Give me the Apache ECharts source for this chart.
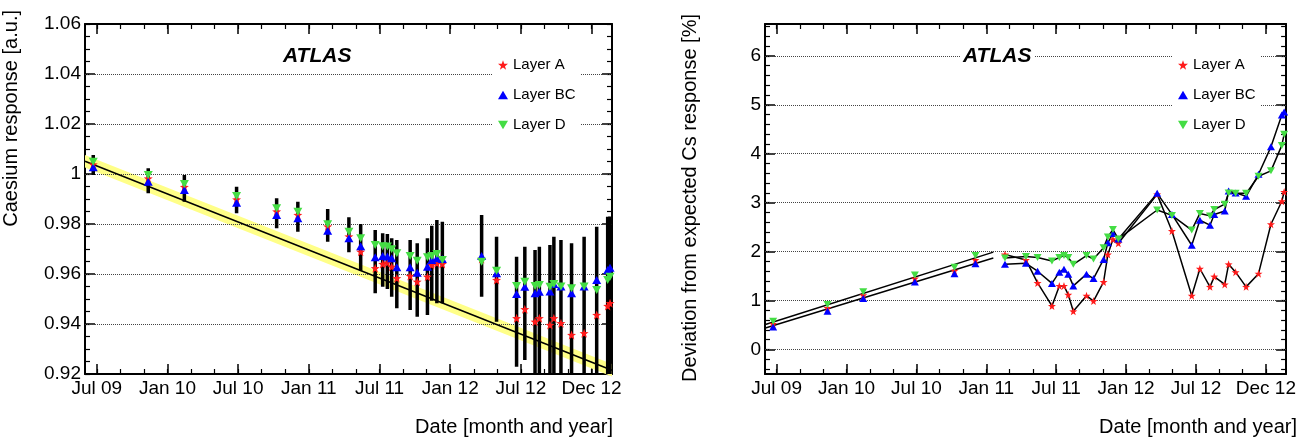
<!DOCTYPE html>
<html>
<head>
<meta charset="utf-8">
<script src="https://cdn.jsdelivr.net/npm/echarts@6/dist/echarts.min.js"></script>
<style>html,body{margin:0;padding:0;background:#fff}#c{width:1299px;height:448px}</style>
</head>
<body>
<div id="c"></div>
<script>
// ---------------- data ----------------
const dates = ["2009-07-11","2009-11-28","2010-02-28","2010-07-11","2010-10-21","2010-12-14","2011-02-28","2011-04-23","2011-05-23","2011-06-29","2011-07-18","2011-07-30","2011-08-10","2011-08-23","2011-09-26","2011-10-14","2011-11-09","2011-11-20","2011-12-03","2011-12-17","2012-03-26","2012-05-03","2012-06-23","2012-07-14","2012-08-09","2012-08-20","2012-09-16","2012-09-26","2012-10-14","2012-11-10","2012-12-12","2013-01-13","2013-02-10","2013-02-16"];

// Left panel: caesium response [a.u.]
const respA  = [1.0038,0.9982,0.9948,0.9898,0.9850,0.9836,0.9790,0.9750,0.9689,0.9623,0.9640,0.9645,0.9629,0.9583,0.9592,0.9569,0.9589,0.9636,0.9643,0.9640,0.9660,0.9576,0.9423,0.9459,0.9409,0.9423,0.9396,0.9423,0.9403,0.9356,0.9363,0.9436,0.9472,0.9483];
const respBC = [1.0027,0.9969,0.9936,0.9885,0.9836,0.9823,0.9773,0.9743,0.9711,0.9667,0.9672,0.9670,0.9663,0.9627,0.9627,0.9605,0.9629,0.9656,0.9663,0.9660,0.9672,0.9603,0.9520,0.9549,0.9523,0.9529,0.9530,0.9560,0.9550,0.9523,0.9550,0.9576,0.9616,0.9625];
const respD  = [1.0049,0.9996,0.9960,0.9912,0.9863,0.9849,0.9799,0.9769,0.9743,0.9716,0.9711,0.9710,0.9699,0.9683,0.9672,0.9653,0.9667,0.9672,0.9680,0.9656,0.9649,0.9613,0.9552,0.9569,0.9552,0.9556,0.9549,0.9560,0.9550,0.9543,0.9550,0.9536,0.9576,0.9589];
const errTop    = [1.0076,1.0023,0.9996,0.9949,0.9903,0.9889,0.9860,0.9827,0.9800,0.9776,0.9763,0.9760,0.9743,0.9736,0.9736,0.9723,0.9743,0.9793,0.9816,0.9809,0.9836,0.9749,0.9669,0.9709,0.9696,0.9709,0.9716,0.9749,0.9736,0.9723,0.9749,0.9789,0.9829,0.9830];
const errBottom = [0.9996,0.9923,0.9889,0.9843,0.9783,0.9769,0.9729,0.9687,0.9613,0.9523,0.9549,0.9540,0.9509,0.9463,0.9456,0.9429,0.9436,0.9493,0.9483,0.9483,0.9509,0.9409,0.9229,0.9256,0.9100,0.9100,0.9100,0.9100,0.9100,0.9100,0.9100,0.9100,0.9100,0.9100];
const fitLeft = [["2009-06-20", 1.0051], ["2013-02-21", 0.9215]];
const fitBandHalf = 0.0025;

// Right panel: deviation from expected Cs response [%]
const devA  = [0.52,0.85,1.11,1.45,1.61,1.83,1.94,1.83,1.36,0.89,1.30,1.30,1.12,0.78,1.10,0.99,1.38,1.94,2.25,2.17,3.17,2.42,1.10,1.65,1.28,1.49,1.33,1.74,1.58,1.28,1.55,2.56,3.03,3.22];
const devBC = [0.46,0.78,1.04,1.38,1.55,1.75,1.74,1.76,1.60,1.35,1.58,1.64,1.54,1.30,1.54,1.45,1.84,2.18,2.37,2.26,3.19,2.76,2.13,2.64,2.54,2.76,2.83,3.24,3.20,3.13,3.58,4.14,4.79,4.85];
const devD  = [0.58,0.92,1.18,1.52,1.68,1.92,1.87,1.90,1.88,1.81,1.88,1.92,1.88,1.74,1.92,1.85,2.08,2.30,2.45,2.26,2.85,2.74,2.44,2.78,2.73,2.86,2.97,3.20,3.19,3.19,3.54,3.65,4.17,4.40];
const fitDevBC = [["2009-06-21", 0.44], ["2011-01-29", 1.87]];
const fitDevD  = [["2009-06-21", 0.51], ["2011-01-29", 1.99]];
const connectFrom = 6; // points joined by lines from this index on

// Axis ticks
const xTickLabels = ["Jul 09","Jan 10","Jul 10","Jan 11","Jul 11","Jan 12","Jul 12","Dec 12"];
const xTickStepDays = 180;
const xOrigin = "2009-07-20";           // date of the first labelled tick
const xRangeDays = [-30, 1312];
const yLeftTicks = [0.92,0.94,0.96,0.98,1.00,1.02,1.04,1.06];
const yRightTicks = [0,1,2,3,4,5,6];
const yLeftGrid = [0.94,0.96,0.98,1.00,1.02,1.04];
const yLeftRange = [0.92, 1.06];
const yRightRange = [-0.5, 6.65];

// ---------------- helpers ----------------
const ORIGIN_MS = Date.parse(xOrigin + "T00:00:00Z");
const day = d => (Date.parse(d + "T00:00:00Z") - ORIGIN_MS) / 86400000;
const xTicks = xTickLabels.map((_, i) => i * xTickStepDays);
const xMinor = []; for (let d = 0; d <= xRangeDays[1]; d += xTickStepDays / 3) xMinor.push(d);
const yLeftMinor = []; for (let i = 0; i <= 28; i++) yLeftMinor.push(+(0.92 + i * 0.005).toFixed(3));
const yRightMinor = []; for (let i = -2; i <= 33; i++) yRightMinor.push(+(i * 0.2).toFixed(1));

const FONT = '"Liberation Sans", Arial, Helvetica, sans-serif';
const STAR = 'path://M50 0 L61.8 33.8 L97.6 34.5 L69 56.2 L79.4 90.5 L50 70 L20.6 90.5 L31 56.2 L2.4 34.5 L38.2 33.8 Z';
const TRI_UP = 'path://M5 0 L10 8.66 L0 8.66 Z';
const TRI_DOWN = 'path://M0 0 L10 0 L5 8.66 Z';
const COL_A = '#ff1a1a', COL_BC = '#0000ff', COL_D = '#44dd44';

const grids = [
  { left: 85, top: 24, width: 527, height: 350 },
  { left: 765, top: 24, width: 527, height: 350 }
];

function xAxesFor(g) {
  const base = { gridIndex: g, type: 'value', min: xRangeDays[0], max: xRangeDays[1], splitLine: { show: false } };
  const line = { show: true, onZero: false, lineStyle: { color: '#000', width: 2 } };
  return [
    Object.assign({}, base, { position: 'bottom', axisLine: line,
      axisTick: { show: true, inside: true, length: 10, customValues: xTicks, lineStyle: { color: '#000', width: 1.5 } },
      axisLabel: { show: true, customValues: xTicks, margin: 5, fontSize: 19, fontFamily: FONT, color: '#000',
        formatter: v => xTickLabels[Math.round(v / xTickStepDays)] } }),
    Object.assign({}, base, { position: 'bottom', axisLine: { show: false, onZero: false },
      axisTick: { show: true, inside: true, length: 5, customValues: xMinor, lineStyle: { color: '#000', width: 1.2 } },
      axisLabel: { show: false } }),
    Object.assign({}, base, { position: 'top', axisLine: line,
      axisTick: { show: true, inside: true, length: 10, customValues: xTicks, lineStyle: { color: '#000', width: 1.5 } },
      axisLabel: { show: false } }),
    Object.assign({}, base, { position: 'top', axisLine: { show: false, onZero: false },
      axisTick: { show: true, inside: true, length: 5, customValues: xMinor, lineStyle: { color: '#000', width: 1.2 } },
      axisLabel: { show: false } })
  ];
}
function yAxesFor(g, range, ticks, minor, fmt) {
  const base = { gridIndex: g, type: 'value', min: range[0], max: range[1], splitLine: { show: false } };
  const line = { show: true, onZero: false, lineStyle: { color: '#000', width: 2 } };
  return [
    Object.assign({}, base, { position: 'left', axisLine: line,
      axisTick: { show: true, inside: true, length: 10, customValues: ticks, lineStyle: { color: '#000', width: 1.5 } },
      axisLabel: { show: true, customValues: ticks, margin: 4, fontSize: 19, fontFamily: FONT, color: '#000',
        showMinLabel: true, showMaxLabel: true, formatter: fmt } }),
    Object.assign({}, base, { position: 'left', axisLine: { show: false, onZero: false },
      axisTick: { show: true, inside: true, length: 5, customValues: minor, lineStyle: { color: '#000', width: 1.2 } },
      axisLabel: { show: false } }),
    Object.assign({}, base, { position: 'right', axisLine: line,
      axisTick: { show: true, inside: true, length: 10, customValues: ticks, lineStyle: { color: '#000', width: 1.5 } },
      axisLabel: { show: false } }),
    Object.assign({}, base, { position: 'right', axisLine: { show: false, onZero: false },
      axisTick: { show: true, inside: true, length: 5, customValues: minor, lineStyle: { color: '#000', width: 1.2 } },
      axisLabel: { show: false } })
  ];
}

const gridMarkLine = vals => ({
  silent: true, symbol: ['none', 'none'], label: { show: false }, animation: false, z: 1.5,
  lineStyle: { type: 'dotted', color: '#444', width: 1 },
  data: vals.map(v => ({ yAxis: v }))
});

const pts = arr => dates.map((d, i) => [day(d), arr[i]]);
const linePts = arr => dates.slice(connectFrom).map((d, i) => [day(d), arr[i + connectFrom]]);
const fitPts = f => f.map(p => [day(p[0]), p[1]]);

const legendData = [
  { name: 'Layer A', icon: STAR },
  { name: 'Layer BC', icon: TRI_UP },
  { name: 'Layer D', icon: TRI_DOWN }
];
const legendFor = left => ({
  orient: 'vertical', left: left, top: 51, padding: [5, 5, 5, 5], itemGap: 12, z: 10,
  itemWidth: 10, itemHeight: 10, backgroundColor: '#fff', selectedMode: false,
  textStyle: { fontSize: 15, fontFamily: FONT, color: '#000', lineHeight: 18 }, data: legendData
});

const scatter = (name, g, arr, sym, size, color, z) => ({
  name, type: 'scatter', xAxisIndex: 4 * g, yAxisIndex: 4 * g, data: pts(arr),
  symbol: sym, symbolSize: size, itemStyle: { color, opacity: 1 }, z
});

const series = [
  // ---- left panel ----
  { type: 'custom', xAxisIndex: 0, yAxisIndex: 0, z: 1,
    data: [[day(fitLeft[0][0]), fitLeft[0][1], day(fitLeft[1][0]), fitLeft[1][1]]],
    encode: { x: [0, 2], y: [1, 3] },
    renderItem: (params, api) => {
      const x0 = api.value(0), y0 = api.value(1), x1 = api.value(2), y1 = api.value(3);
      return { type: 'polygon', shape: { points: [
        api.coord([x0, y0 - fitBandHalf]), api.coord([x1, y1 - fitBandHalf]),
        api.coord([x1, y1 + fitBandHalf]), api.coord([x0, y0 + fitBandHalf]) ] },
        style: { fill: '#ffff88' } };
    } },
  { type: 'line', xAxisIndex: 0, yAxisIndex: 0, z: 2, data: fitPts(fitLeft), symbol: 'none',
    lineStyle: { color: '#000', width: 1.5 }, markLine: gridMarkLine(yLeftGrid) },
  { type: 'custom', xAxisIndex: 0, yAxisIndex: 0, z: 3,
    data: dates.map((d, i) => [day(d), errBottom[i], errTop[i]]),
    encode: { x: 0, y: [1, 2] },
    renderItem: (params, api) => {
      const x = api.value(0);
      const top = api.coord([x, api.value(2)]), bot = api.coord([x, api.value(1)]);
      const cs = params.coordSys;
      const y1 = Math.max(top[1], cs.y), y2 = Math.min(bot[1], cs.y + cs.height);
      return { type: 'line', shape: { x1: top[0], y1: y1, x2: top[0], y2: y2 },
        style: { stroke: '#000', lineWidth: 3.5 } };
    } },
  scatter('Layer A', 0, respA, STAR, [9, 9], COL_A, 4),
  scatter('Layer BC', 0, respBC, TRI_UP, [9, 8], COL_BC, 5),
  scatter('Layer D', 0, respD, TRI_DOWN, [9, 8], COL_D, 6),
  // ---- right panel ----
  { type: 'line', xAxisIndex: 4, yAxisIndex: 4, z: 2, data: fitPts(fitDevD), symbol: 'none',
    lineStyle: { color: '#000', width: 1.5 }, markLine: gridMarkLine(yRightTicks) },
  { type: 'line', xAxisIndex: 4, yAxisIndex: 4, z: 2, data: fitPts(fitDevBC), symbol: 'none',
    lineStyle: { color: '#000', width: 1.5 } },
  { type: 'line', xAxisIndex: 4, yAxisIndex: 4, z: 3, data: linePts(devA), symbol: 'none', lineStyle: { color: '#000', width: 1.5 } },
  { type: 'line', xAxisIndex: 4, yAxisIndex: 4, z: 3, data: linePts(devBC), symbol: 'none', lineStyle: { color: '#000', width: 1.5 } },
  { type: 'line', xAxisIndex: 4, yAxisIndex: 4, z: 3, data: linePts(devD), symbol: 'none', lineStyle: { color: '#000', width: 1.5 } },
  scatter('Layer A', 1, devA, STAR, [8, 8], COL_A, 4),
  scatter('Layer BC', 1, devBC, TRI_UP, [8, 7], COL_BC, 5),
  scatter('Layer D', 1, devD, TRI_DOWN, [8, 7], COL_D, 6)
];

const leftFmt = v => String(parseFloat(Number(v).toFixed(2)));
const rightFmt = v => String(Math.round(v));

const txt = (x, y, text, font, align, rot, extra) => ({
  type: 'text', x, y, rotation: rot || 0, z: 100,
  style: Object.assign({ text, font, fill: '#000', textAlign: align, textVerticalAlign: 'middle' }, extra || {})
});

const option = {
  animation: false,
  backgroundColor: '#fff',
  grid: grids,
  xAxis: [...xAxesFor(0), ...xAxesFor(1)],
  yAxis: [...yAxesFor(0, yLeftRange, yLeftTicks, yLeftMinor, leftFmt),
          ...yAxesFor(1, yRightRange, yRightTicks, yRightMinor, rightFmt)],
  legend: [legendFor(1173 - 680), legendFor(1173)],
  series,
  graphic: [
    txt(11, 10, 'Caesium response [a.u.]', '20px ' + FONT, 'right', Math.PI / 2),
    txt(690, 14, 'Deviation from expected Cs response [%]', '20px ' + FONT, 'right', Math.PI / 2),
    txt(613, 427, 'Date [month and year]', '20px ' + FONT, 'right'),
    txt(1297, 427, 'Date [month and year]', '20px ' + FONT, 'right'),
    txt(280, 56, 'ATLAS', 'italic bold 21px ' + FONT, 'left', 0, { backgroundColor: '#fff', padding: [0, 3] }),
    txt(960, 56, 'ATLAS', 'italic bold 21px ' + FONT, 'left', 0, { backgroundColor: '#fff', padding: [0, 3] })
  ]
};

const chart = echarts.init(document.getElementById('c'), null, { renderer: 'canvas' });
chart.setOption(option);
</script>
</body>
</html>
